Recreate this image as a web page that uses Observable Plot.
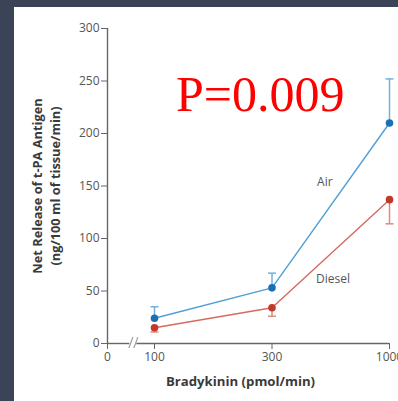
<!DOCTYPE html>
<html>
<head>
<meta charset="utf-8">
<script src="https://cdn.jsdelivr.net/npm/d3@7"></script>
<script src="https://cdn.jsdelivr.net/npm/@observablehq/plot@0.6"></script>
<style>
  html, body { margin: 0; padding: 0; overflow: hidden; background: #3b4456; }
  #frame { padding: 7px 0 0 14px; width: 384px; height: 394px; }
  #frame svg { background: #ffffff; display: block; overflow: hidden; }
</style>
</head>
<body>
<div id="frame"></div>
<script>
// Bradykinin doses (pmol/min), drawn at evenly spaced positions 0, 1, 2
const doses = [100, 300, 1000];
// x-axis ticks: the origin sits left of an axis break
const xTickPos = [-0.4, 0, 1, 2];
const xTickLabels = ["0", "100", "300", "1000"];
const yTicks = [0, 50, 100, 150, 200, 250, 300];

// Net release of t-PA antigen (ng/100 ml of tissue/min)
const airMean = [24, 53, 210];
const airErr = [11, 14, 42];      // drawn upward
const dieselMean = [15, 34, 137];
const dieselErr = [4, 8, 23];     // drawn downward

const seriesNames = ["Air", "Diesel"];
const pText = "P=0.009";

const axisBreak = -0.18;

const blueLine = "#4f9fd6", blueDot = "#1c6fb5", blueErr = "#73b1de";
const redLine = "#d66a5f", redDot = "#c0392b", redErr = "#dc8a82";
const ink = "#555555", titleInk = "#3a3a3a";

const rows = (means, errs, dir, name) => doses.map((d, i) => ({
  i, dose: d, name, y: means[i], yEnd: means[i] + dir * errs[i]
}));
const air = rows(airMean, airErr, +1, "Air");
const diesel = rows(dieselMean, dieselErr, -1, "Diesel");

// horizontal cap for the error bars
const cap = {draw(ctx, size) { const w = Math.sqrt(size / Math.PI); ctx.moveTo(-w, 0); ctx.lineTo(w, 0); }};

const labels = [
  {x: 1.45, y: 154, text: seriesNames[0]},
  {x: 1.52, y: 61, text: seriesNames[1]}
];

const chart = Plot.plot({
  width: 384,
  height: 394,
  marginLeft: 93,
  marginRight: 9,
  marginTop: 21,
  marginBottom: 58,
  style: {fontFamily: "'Open Sans', sans-serif", background: "#ffffff"},
  x: {type: "linear", domain: [-0.4, 2], axis: null},
  y: {domain: [0, 300], axis: null},
  marks: [
    // axes lines
    Plot.ruleX([-0.4], {y1: 0, y2: 300, stroke: "#666", strokeWidth: 1.4}),
    Plot.ruleY([0], {x1: -0.4, x2: axisBreak - 0.03, stroke: "#666", strokeWidth: 1.4}),
    Plot.ruleY([0], {x1: axisBreak + 0.03, x2: 2, stroke: "#666", strokeWidth: 1.4}),
    Plot.text([axisBreak], {x: d => d, y: 0, text: () => "//", fill: "#666", fontSize: 15, fontWeight: 300}),
    Plot.axisY({ticks: yTicks, tickSize: 6, tickPadding: 2, stroke: "#666", fill: ink, fontSize: 12, label: null, anchor: "left"}),
    Plot.axisX({ticks: xTickPos, tickFormat: (d, k) => xTickLabels[k], tickSize: 6, tickPadding: 3, stroke: "#666", fill: ink, fontSize: 12, label: null, anchor: "bottom"}),
    // axis titles
    Plot.text(["Net Release of t-PA Antigen\n(ng/100 ml of tissue/min)"], {
      frameAnchor: "left", textAnchor: "middle", rotate: -90, dx: -62, text: d => d,
      fontSize: 12.8, fontWeight: 700, fill: titleInk, lineHeight: 1.4
    }),
    Plot.text(["Bradykinin (pmol/min)"], {
      frameAnchor: "bottom", dx: -8, dy: 42, text: d => d, fontSize: 13.2, fontWeight: 700, fill: titleInk
    }),
    // error bars
    Plot.link(air, {x1: "i", x2: "i", y1: "y", y2: "yEnd", stroke: blueErr, strokeWidth: 1.5}),
    Plot.dot(air, {x: "i", y: "yEnd", symbol: cap, r: 4, stroke: blueErr, strokeWidth: 1.5}),
    Plot.link(diesel, {x1: "i", x2: "i", y1: "y", y2: "yEnd", stroke: redErr, strokeWidth: 1.5}),
    Plot.dot(diesel, {x: "i", y: "yEnd", symbol: cap, r: 4, stroke: redErr, strokeWidth: 1.5}),
    // series lines and points
    Plot.line(air, {x: "i", y: "y", stroke: blueLine, strokeWidth: 1.4}),
    Plot.line(diesel, {x: "i", y: "y", stroke: redLine, strokeWidth: 1.4}),
    Plot.dot(air, {x: "i", y: "y", r: 3.8, fill: blueDot}),
    Plot.dot(diesel, {x: "i", y: "y", r: 3.8, fill: redDot}),
    // series labels
    Plot.text(labels, {x: "x", y: "y", text: "text", fill: ink, fontSize: 12}),
    // significance
    Plot.text([pText], {x: 0.9, y: 221, text: d => d, lineAnchor: "bottom",
      fontFamily: "'Liberation Serif', 'Times New Roman', serif", fontSize: 50, fill: "#ff0000"})
  ]
});
document.getElementById("frame").appendChild(chart);
</script>
</body>
</html>
